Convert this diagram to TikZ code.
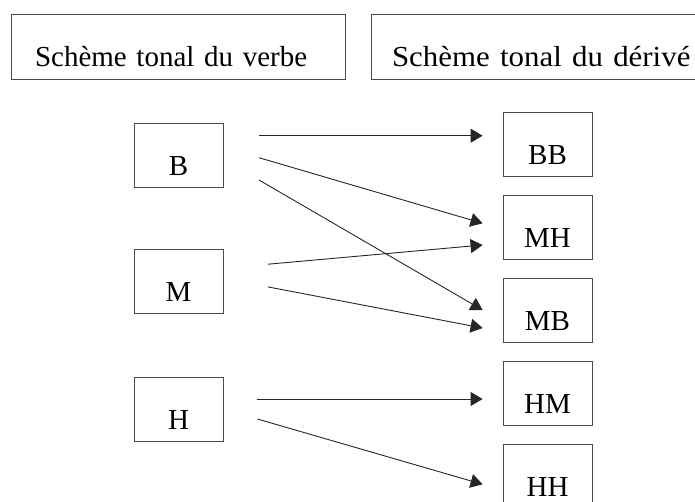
\documentclass[tikz,border=0pt]{standalone}
\usepackage{fontspec}
\setmainfont{Liberation Serif}
\usetikzlibrary{positioning,arrows.meta}

\begin{document}
\begin{tikzpicture}[x=1pt,y=-1pt,
        font=\fontsize{29}{34}\selectfont,
        head/.style = {draw, line width=0.8pt, draw=black!70, inner ysep=0pt, align=left, text height=52pt, text depth=13pt},
        tonbox/.style = {draw, line width=0.8pt, draw=black!70, inner sep=0pt, minimum width=89pt, text height=52pt, text depth=12pt},
        arr/.style = {-{Triangle[length=12pt,width=14pt]}, line width=0.9pt, black!85},
        node distance={83pt}]
        \useasboundingbox (0,0) rectangle (695,501);
        % titles
        \node[head, inner xsep=24pt, text width=286pt] (verbe) at (178,46.5) {Schème tonal du verbe};
        \node[head, inner xsep=21pt, text width=300pt] (derive) at (542,46.5) {\scalebox{1.065}[1]{Schème tonal du dérivé}};
        % verb tones
        \node[tonbox] (B) at (178.5,155) {B};
        \node[tonbox] (M) [below of=B, node distance=126pt] {M};
        \node[tonbox] (H) [below of=M, node distance=128.5pt] {H};
        % derived tones
        \node[tonbox] (BB) at (547.5,144.5) {BB};
        \node[tonbox] (MH) [below of=BB] {MH};
        \node[tonbox] (MB) [below of=MH] {MB};
        \node[tonbox] (HM) [below of=MB] {HM};
        \node[tonbox] (HH) [below of=HM] {HH};
        % arrow ends
        \coordinate (B1) at ([xshift=35.6pt,yshift=19.3pt]B.east);
        \coordinate (B2) at ([xshift=35.6pt,yshift=-2.7pt]B.east);
        \coordinate (B3) at ([xshift=35.6pt,yshift=-25pt]B.east);
        \coordinate (M1) at ([xshift=44.6pt,yshift=16.8pt]M.east);
        \coordinate (M2) at ([xshift=44.6pt,yshift=-5.9pt]M.east);
        \coordinate (H1) at ([xshift=34pt,yshift=10.5pt]H.east);
        \coordinate (H2) at ([xshift=34pt,yshift=-9.5pt]H.east);
        \coordinate (BB1) at ([xshift=-20pt,yshift=8.8pt]BB.west);
        \coordinate (MH1) at ([xshift=-20pt,yshift=4.2pt]MH.west);
        \coordinate (MH2) at ([xshift=-20pt,yshift=-17.5pt]MH.west);
        \coordinate (MB1) at ([xshift=-20pt,yshift=0.5pt]MB.west);
        \coordinate (MB2) at ([xshift=-20pt,yshift=-17.5pt]MB.west);
        \coordinate (HM1) at ([xshift=-20pt,yshift=-5.5pt]HM.west);
        \coordinate (HH1) at ([xshift=-20pt,yshift=-7.8pt]HH.west);
        \draw[arr] (B1) -- (BB1);
        \draw[arr] (B2) -- (MH1);
        \draw[arr] (B3) -- (MB1);
        \draw[arr] (M1) -- (MH2);
        \draw[arr] (M2) -- (MB2);
        \draw[arr] (H1) -- (HM1);
        \draw[arr] (H2) -- (HH1);
\end{tikzpicture}
\end{document}
